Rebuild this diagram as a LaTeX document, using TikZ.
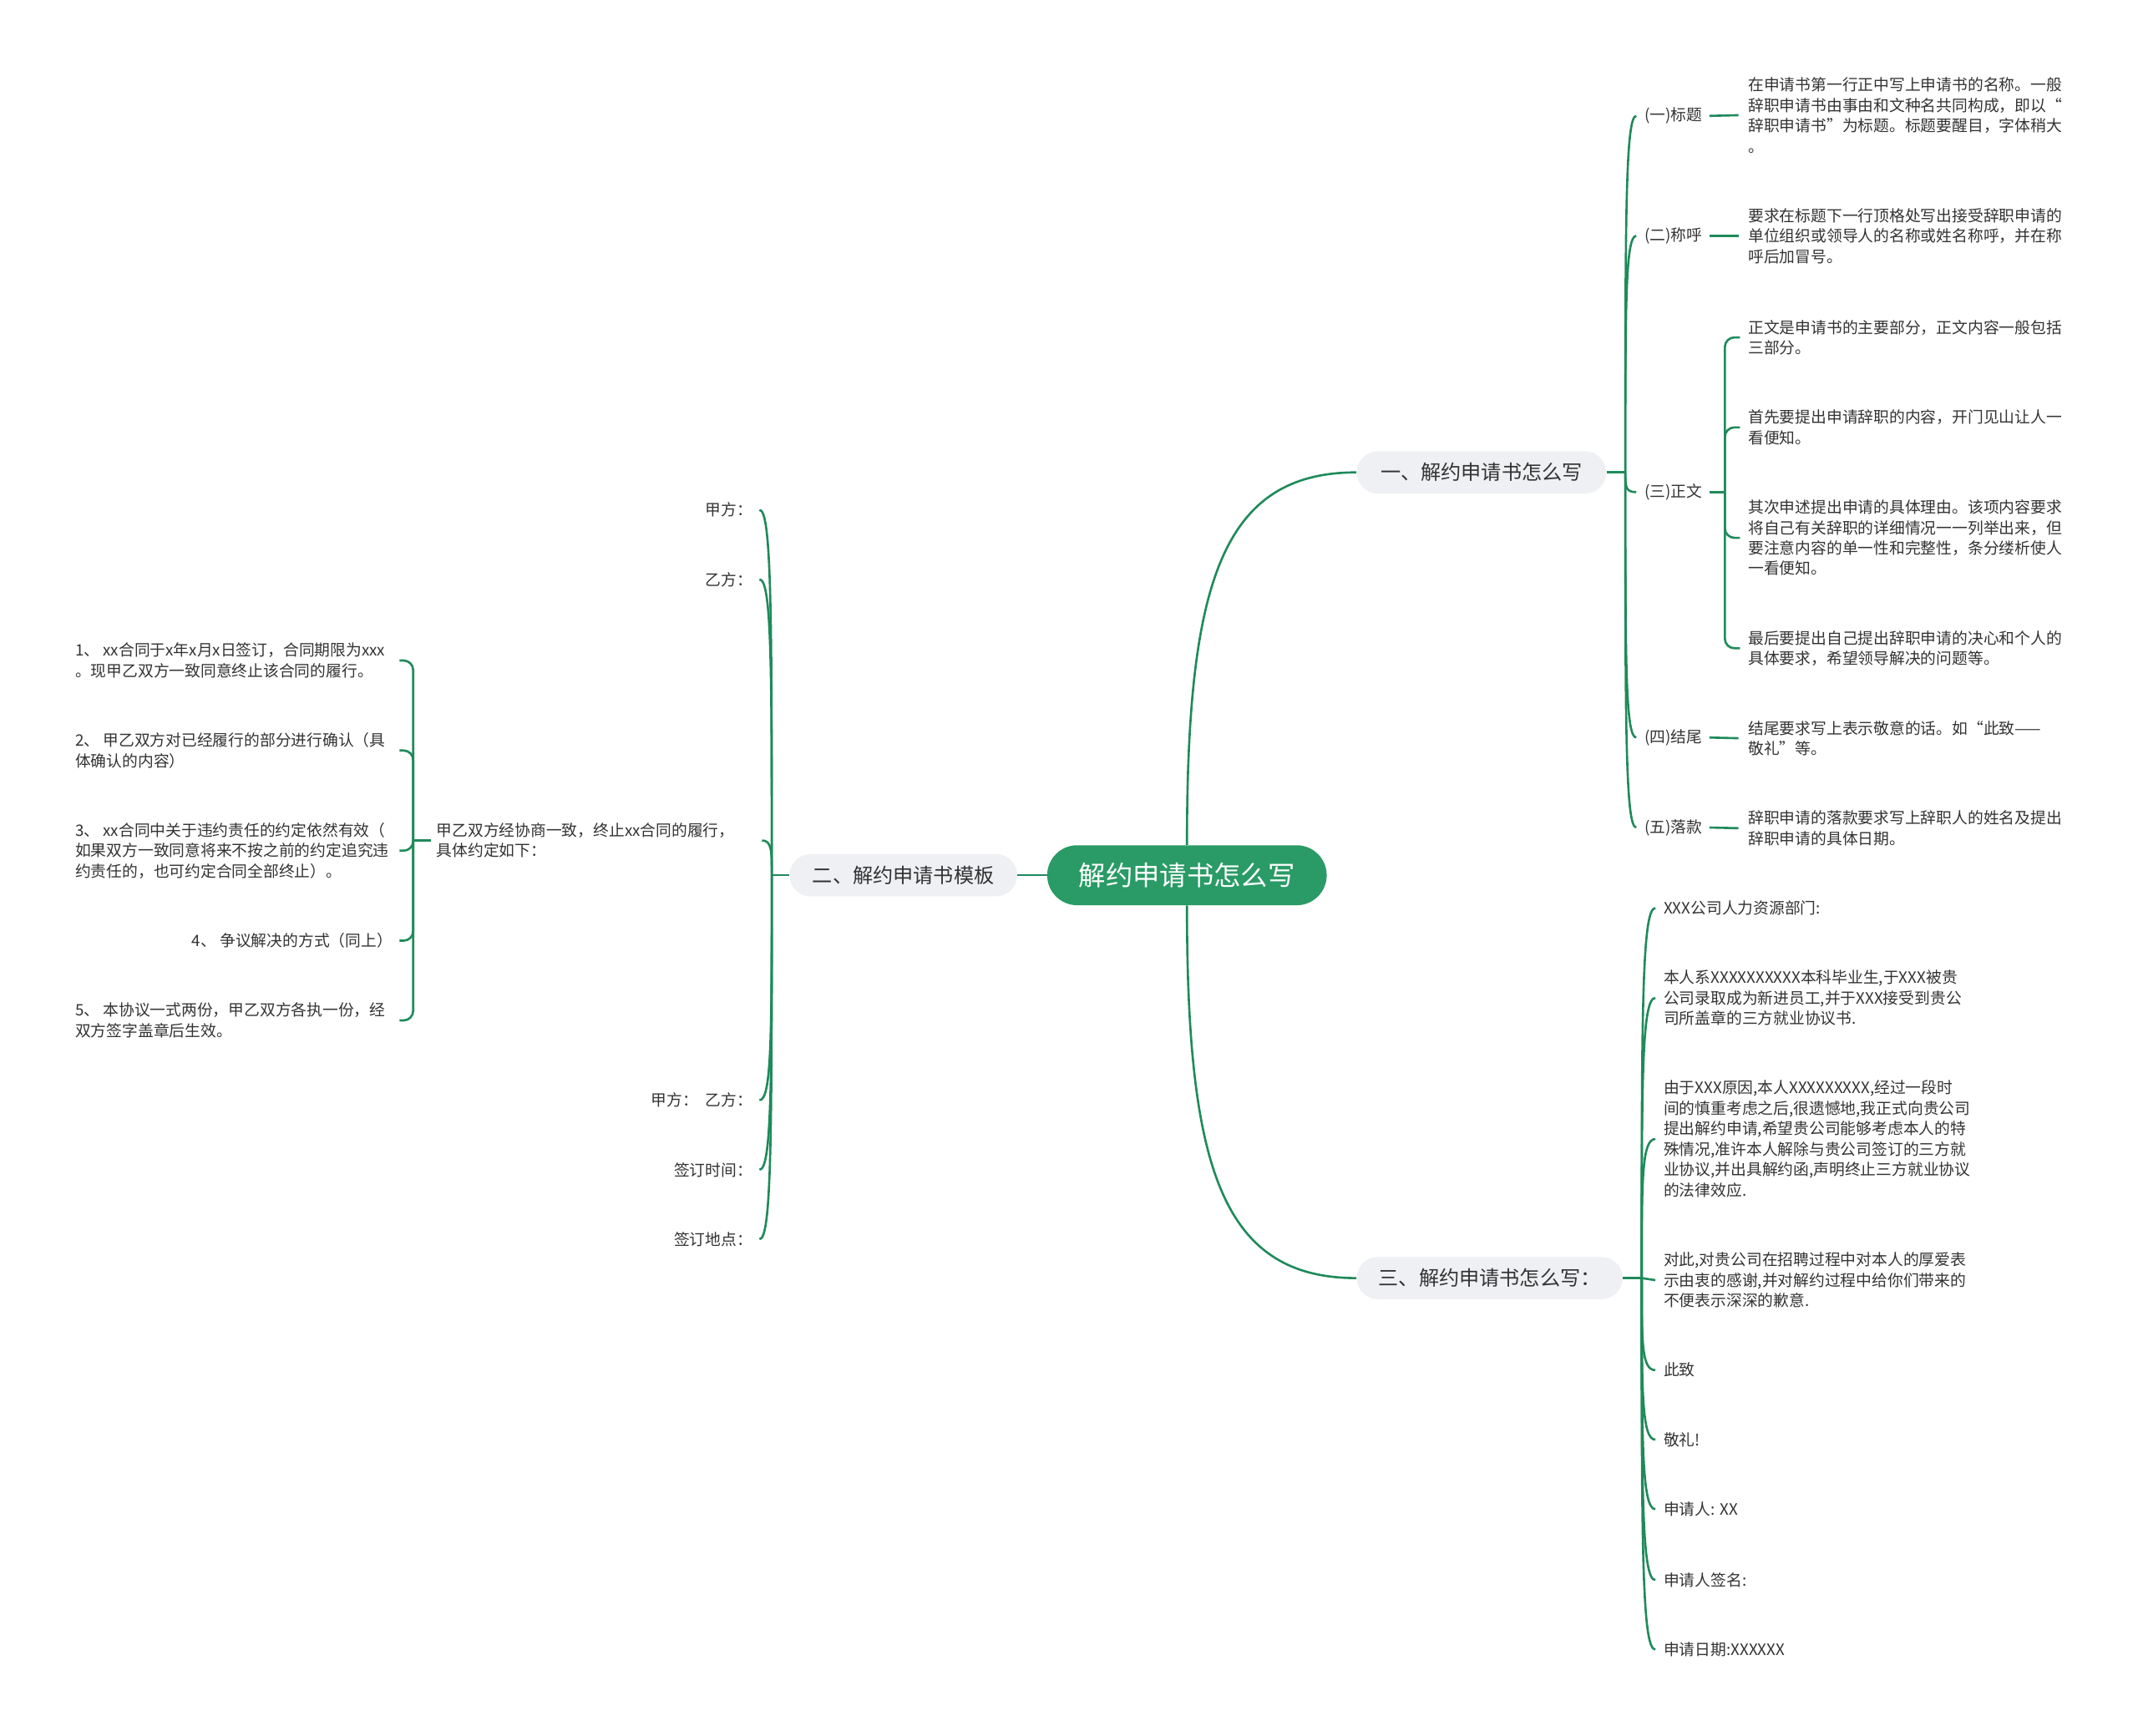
\documentclass[tikz,border=0pt]{standalone}
\usepackage{fontspec}
\usetikzlibrary{calc}
\setmainfont{Noto Sans CJK SC}
\definecolor{lc}{HTML}{1E8A5A}
\definecolor{rootc}{HTML}{2A9B66}
\definecolor{pillc}{HTML}{EEF0F3}
\definecolor{tc}{HTML}{333333}
\tikzset{
  txt/.style={inner sep=0pt, align=left, font=\fontsize{11.5}{15}\selectfont, text=tc},
  br/.style={draw=lc, line width=1.6pt},
  rootbox/.style={fill=rootc, text=white, rounded corners=22pt, minimum width=205pt,
    minimum height=44pt, inner sep=0pt, font=\fontsize{19.8}{22}\selectfont},
  pill/.style={fill=pillc, text=tc, rounded corners=15.5pt, minimum height=31pt,
    inner sep=0pt, font=\fontsize{14.8}{17}\selectfont},
}
\begin{document}
\begin{tikzpicture}[x=1pt,y=-1pt]
\useasboundingbox (0,0) rectangle (1568,1273);
\fill[white] (0,0) rectangle (1568,1273);

% root and main branches
\node[rootbox] (r) at (870.5,642) {解约申请书怎么写};
\node[pill, minimum width=183pt] (a) at (1086.5,346.5) {一、解约申请书怎么写};
\node[pill, minimum width=167pt] (b) at (662.5,642) {二、解约申请书模板};
\node[pill, minimum width=195pt] (c) at (1092.5,937.5) {三、解约申请书怎么写：};

\draw[br] (r.north) .. controls (870.5,430) and (895,346.5) .. (a.west);
\draw[br] (r.south) .. controls (870.5,854) and (895,937.5) .. (c.west);
\draw[br] (r.west) -- (b.east);

% ---------- branch 一 ----------
\node[txt, anchor=west] (a1) at (1206,85) {(一)标题};
\node[txt, anchor=west] (a2) at (1206,173) {(二)称呼};
\node[txt, anchor=west] (a3) at (1206,361) {(三)正文};
\node[txt, anchor=west] (a4) at (1206,541) {(四)结尾};
\node[txt, anchor=west] (a5) at (1206,607) {(五)落款};

\node[txt, anchor=west] (d1) at (1282,84.5) {在申请书第一行正中写上申请书的名称。一般\\辞职申请书由事由和文种名共同构成，即以“\\辞职申请书”为标题。标题要醒目，字体稍大\\。};
\node[txt, anchor=west] (d2) at (1282,173) {要求在标题下一行顶格处写出接受辞职申请的\\单位组织或领导人的名称或姓名称呼，并在称\\呼后加冒号。};
\node[txt, anchor=west] (z1) at (1282,247.5) {正文是申请书的主要部分，正文内容一般包括\\三部分。};
\node[txt, anchor=west] (z2) at (1282,313.5) {首先要提出申请辞职的内容，开门见山让人一\\看便知。};
\node[txt, anchor=west] (z3) at (1282,394.5) {其次申述提出申请的具体理由。该项内容要求\\将自己有关辞职的详细情况一一列举出来，但\\要注意内容的单一性和完整性，条分缕析使人\\一看便知。};
\node[txt, anchor=west] (z4) at (1282,475.5) {最后要提出自己提出辞职申请的决心和个人的\\具体要求，希望领导解决的问题等。};
\node[txt, anchor=west] (d4) at (1282,541.5) {结尾要求写上表示敬意的话。如“此致——\\敬礼”等。};
\node[txt, anchor=west] (d5) at (1282,607.5) {辞职申请的落款要求写上辞职人的姓名及提出\\辞职申请的具体日期。};

\coordinate (ja) at (1192,346.5);
\draw[br] (a.east) -- (ja);
\foreach \n in {a1,a2,a3,a4,a5}
  \draw[br] (ja) .. controls ($(ja)!0.7!(ja |- \n.west)$) and (ja |- \n.west) .. ([xshift=-6pt]\n.west);
\foreach \p/\q in {a1/d1,a2/d2,a4/d4,a5/d5}
  \draw[br] ([xshift=5pt]\p.east) -- ([xshift=-7pt]\q.west);
\coordinate (zb) at (1265,361);
\draw[br] ([xshift=5pt]a3.east) -- (zb);
\foreach \z in {z1,z2,z3,z4}
  \draw[br, rounded corners=7pt] (zb) |- ([xshift=-6pt]\z.west);

% ---------- branch 三 ----------
\node[txt, anchor=west] (c1) at (1220,666) {XXX公司人力资源部门:};
\node[txt, anchor=west] (c2) at (1220,732) {本人系XXXXXXXXXX本科毕业生,于XXX被贵\\公司录取成为新进员工,并于XXX接受到贵公\\司所盖章的三方就业协议书.};
\node[txt, anchor=west] (c3) at (1220,835.5) {由于XXX原因,本人XXXXXXXXX,经过一段时\\间的慎重考虑之后,很遗憾地,我正式向贵公司\\提出解约申请,希望贵公司能够考虑本人的特\\殊情况,准许本人解除与贵公司签订的三方就\\业协议,并出具解约函,声明终止三方就业协议\\的法律效应.};
\node[txt, anchor=west] (c4) at (1220,939) {对此,对贵公司在招聘过程中对本人的厚爱表\\示由衷的感谢,并对解约过程中给你们带来的\\不便表示深深的歉意.};
\node[txt, anchor=west] (c5) at (1220,1005) {此致};
\node[txt, anchor=west] (c6) at (1220,1056) {敬礼!};
\node[txt, anchor=west] (c7) at (1220,1107) {申请人: XX};
\node[txt, anchor=west] (c8) at (1220,1159) {申请人签名:};
\node[txt, anchor=west] (c9) at (1220,1210) {申请日期:XXXXXX};
\coordinate (jc) at (1204,937.5);
\draw[br] (c.east) -- (jc);
\foreach \n in {c1,c2,c3,c5,c6,c7,c8,c9}
  \draw[br] (jc) .. controls ($(jc)!0.7!(jc |- \n.west)$) and (jc |- \n.west) .. ([xshift=-6pt]\n.west);
\draw[br] (jc) -- ([xshift=-6pt]c4.west);

% ---------- branch 二 ----------
\node[txt, anchor=east] (b1) at (552,374) {甲方：};
\node[txt, anchor=east] (b2) at (552,425) {乙方：};
\node[txt, anchor=west] (b3) at (320,616.5) {甲乙双方经协商一致，终止xx合同的履行，\\具体约定如下：};
\node[txt, anchor=east] (b4) at (552,807) {甲方：\ \ 乙方：};
\node[txt, anchor=east] (b5) at (552,858) {签订时间：};
\node[txt, anchor=east] (b6) at (552,909) {签订地点：};
\coordinate (jbb) at (566,642);
\draw[br] (b.west) -- (jbb);
\foreach \n in {b1,b2,b4,b5,b6}
  \draw[br] (jbb) .. controls ($(jbb)!0.7!(jbb |- \n.east)$) and (jbb |- \n.east) .. ([xshift=5pt]\n.east);
\draw[br] (jbb) .. controls ($(jbb)!0.7!(jbb |- b3.east)$) and (jbb |- b3.east) .. ([xshift=20pt]b3.east);

\node[txt, anchor=west] (i1) at (55,484.5) {1、 xx合同于x年x月x日签订，合同期限为xxx\\。现甲乙双方一致同意终止该合同的履行。};
\node[txt, anchor=west] (i2) at (55,550.5) {2、 甲乙双方对已经履行的部分进行确认（具\\体确认的内容）};
\node[txt, anchor=west] (i3) at (55,624) {3、 xx合同中关于违约责任的约定依然有效（\\如果双方一致同意将来不按之前的约定追究违\\约责任的，也可约定合同全部终止）。};
\node[txt, anchor=east] (i4) at (288,690) {4、 争议解决的方式（同上）};
\node[txt, anchor=west] (i5) at (55,748.5) {5、 本协议一式两份，甲乙双方各执一份，经\\双方签字盖章后生效。};
\coordinate (jb) at (303,616.5);
\coordinate (bx) at (293,0);
\draw[br] ([xshift=-4pt]b3.west) -- (jb);
\foreach \n in {i1,i2,i3,i4,i5}
  \draw[br, rounded corners=7pt] (jb) |- (\n.east -| bx);
\end{tikzpicture}
\end{document}
